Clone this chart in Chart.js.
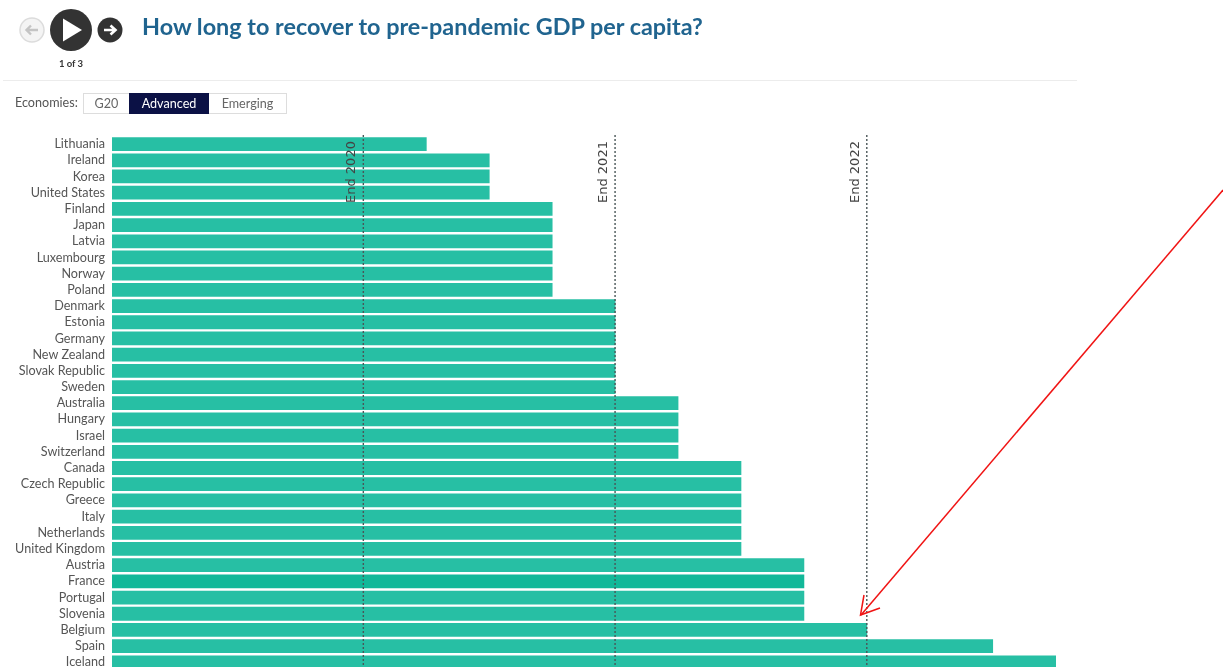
<!DOCTYPE html>
<html lang="en">
<head>
<meta charset="utf-8">
<title>How long to recover to pre-pandemic GDP per capita?</title>
<script src="https://cdn.jsdelivr.net/npm/chart.js@4"></script>
<style>
  html, body { margin: 0; padding: 0; background: #fff; overflow: hidden; }
  #stage { position: relative; width: 1223px; height: 667px; overflow: hidden; font-family: Lato, sans-serif; }
  #chart { position: absolute; left: 0; top: 0; }
  .abs { position: absolute; white-space: nowrap; }
  #title { left: 142px; top: 9px; font-size: 23.4px; line-height: 34px; font-weight: 700; color: #20648f; }
  #step { left: 41px; width: 60px; top: 58px; text-align: center; font-size: 9.5px; line-height: 12px; font-weight: 700; color: #333; }
  #rule { left: 3px; top: 80px; width: 1074px; height: 1px; background: #ececec; }
  #econ { left: 15px; top: 94px; font-size: 12.6px; line-height: 18px; color: #555; }
  #picker { left: 83px; top: 93px; height: 19px; width: 202px; border: 1px solid #ddd; display: flex; font-size: 12.6px; line-height: 19px; color: #666; }
  #picker span { display: block; text-align: center; }
  #picker .on { background: #0b1145; color: #fff; margin-top: -1px; height: 21px; line-height: 21px; }
  #overlay { position: absolute; left: 0; top: 0; pointer-events: none; }
</style>
</head>
<body>
<div id="stage">
  <canvas id="chart" width="1223" height="685"></canvas>

  <svg id="overlay" width="1223" height="667" viewBox="0 0 1223 667">
    <!-- previous / play / next controls -->
    <circle cx="32" cy="30" r="12" fill="#f4f4f4" stroke="#dcdcdc" stroke-width="1.5"/>
    <path d="M38 30H27M31 25.5L26.5 30L31 34.5" fill="none" stroke="#c4c4c4" stroke-width="2.4"/>
    <circle cx="71" cy="30" r="21" fill="#333"/>
    <path d="M63 18.5L82 30L63 41.5Z" fill="#fff"/>
    <circle cx="110" cy="30" r="12.5" fill="#333"/>
    <path d="M104 30H115M110.5 25.5L115.5 30L110.5 34.5" fill="none" stroke="#fff" stroke-width="2.6"/>
    <!-- callout arrow pointing at the end of 2022 -->
    <path d="M1223 190L861 615" fill="none" stroke="#f01414" stroke-width="1.5"/>
    <path d="M864 595L860.5 615L880 608" fill="none" stroke="#f01414" stroke-width="1.5"/>
  </svg>

  <div id="title" class="abs">How long to recover to pre-pandemic GDP per capita?</div>
  <div id="step" class="abs">1 of 3</div>
  <div id="rule" class="abs"></div>
  <div id="econ" class="abs">Economies:</div>
  <div id="picker" class="abs">
    <span style="width:45px">G20</span>
    <span class="on" style="width:80px">Advanced</span>
    <span style="width:77px">Emerging</span>
  </div>
</div>

<script>
// Economies, ordered by time to recovery
const economies = [
  "Lithuania", "Ireland", "Korea", "United States", "Finland", "Japan", "Latvia",
  "Luxembourg", "Norway", "Poland", "Denmark", "Estonia", "Germany", "New Zealand",
  "Slovak Republic", "Sweden", "Australia", "Hungary", "Israel", "Switzerland",
  "Canada", "Czech Republic", "Greece", "Italy", "Netherlands", "United Kingdom",
  "Austria", "France", "Portugal", "Slovenia", "Belgium", "Spain", "Iceland"
];

// Quarters after end 2019 until GDP per capita is back at its pre-pandemic level
const quartersToRecover = [
  5, 6, 6, 6, 7, 7, 7, 7, 7, 7, 8, 8, 8, 8, 8, 8,
  9, 9, 9, 9, 10, 10, 10, 10, 10, 10, 11, 11, 11, 11, 12, 14, 15
];

const highlighted = ["France"];

// Year-end reference lines, in quarters after end 2019
const markerLabels = ["End 2020", "End 2021", "End 2022"];
const markerQuarters = [4, 8, 12];

const BAR_COLOR = "#27bfa4";
const HIGHLIGHT_COLOR = "#12b899";

const yearEndMarkers = {
  id: "yearEndMarkers",
  afterDatasetsDraw(chart) {
    const { ctx, chartArea, scales } = chart;
    markerQuarters.forEach((q, i) => {
      const x = scales.x.getPixelForValue(q) - 0.4;
      ctx.save();
      ctx.beginPath();
      ctx.setLineDash([2, 2]);
      ctx.lineWidth = 1.4;
      ctx.strokeStyle = "#4a5658";
      ctx.moveTo(x, chartArea.top - 1);
      ctx.lineTo(x, chartArea.bottom);
      ctx.stroke();
      ctx.setLineDash([]);
      ctx.translate(x - 5, chartArea.top + 67);
      ctx.rotate(-Math.PI / 2);
      ctx.font = '13px "DejaVu Sans", sans-serif';
      ctx.fillStyle = "#444";
      ctx.textAlign = "left";
      ctx.textBaseline = "bottom";
      ctx.fillText(markerLabels[i], 0, 0);
      ctx.restore();
    });
  }
};

new Chart(document.getElementById("chart"), {
  type: "bar",
  data: {
    labels: economies,
    datasets: [{
      data: quartersToRecover,
      backgroundColor: economies.map(e => highlighted.includes(e) ? HIGHLIGHT_COLOR : BAR_COLOR),
      barPercentage: 1,
      categoryPercentage: 0.85
    }]
  },
  options: {
    indexAxis: "y",
    responsive: false,
    animation: false,
    layout: { padding: { left: 0, right: 167, top: 136, bottom: 3 } },
    plugins: { legend: { display: false }, tooltip: { enabled: false } },
    scales: {
      x: { display: false, min: 0, max: 15 },
      y: {
        afterFit(scale) { scale.width = 112; },
        grid: { display: false, drawTicks: false },
        border: { display: false },
        ticks: {
          autoSkip: false,
          padding: 7,
          color: "#555",
          font: { family: 'Lato, sans-serif', size: 12.6 }
        }
      }
    }
  },
  plugins: [yearEndMarkers]
});
</script>
</body>
</html>
